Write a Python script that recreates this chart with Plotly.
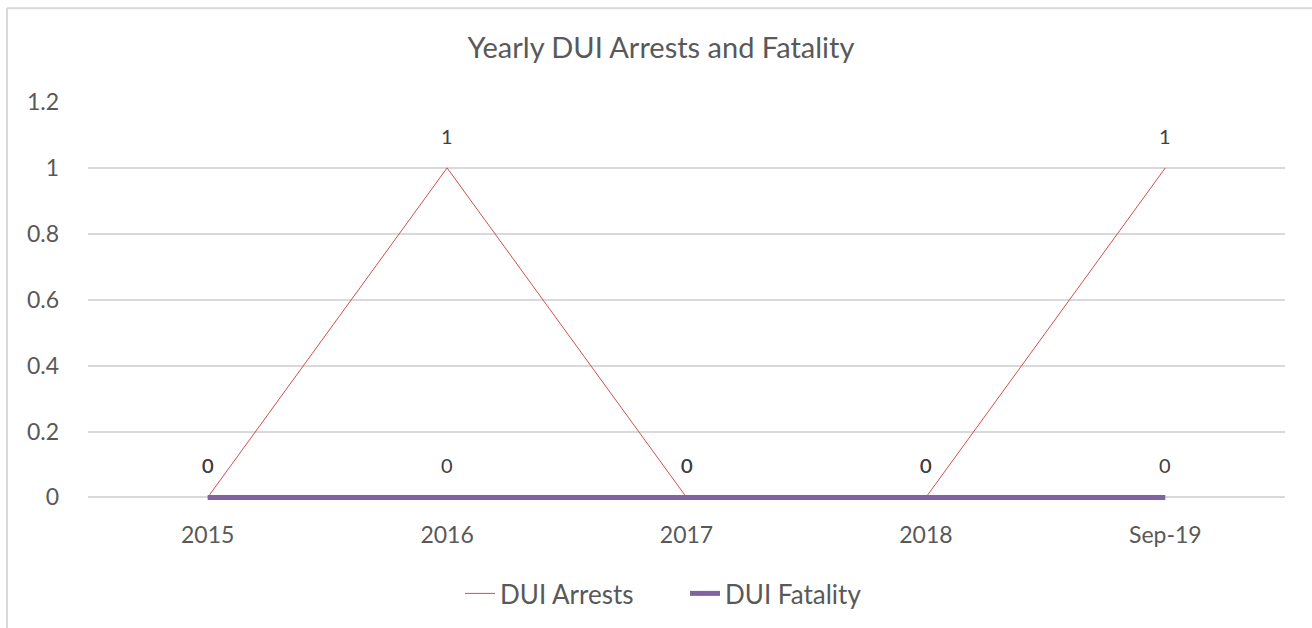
import plotly.graph_objects as go

categories = ["2015", "2016", "2017", "2018", "Sep-19"]
dui_arrests = [0, 1, 0, 0, 1]
dui_fatality = [0, 0, 0, 0, 0]
y_ticks = [0, 0.2, 0.4, 0.6, 0.8, 1, 1.2]
y_tick_labels = ["0", "0.2", "0.4", "0.6", "0.8", "1", "1.2"]

FONT = "Lato"
W, H = 1312, 628
Y_TOP_PX, Y_ZERO_PX = 102, 498
Y_MAX, Y_MIN = 1.2, -0.02
PX_PER_UNIT = (Y_ZERO_PX - Y_TOP_PX) / Y_MAX
EXTRA = -Y_MIN * PX_PER_UNIT
L, R, T = 88, 27, Y_TOP_PX
B = H - Y_ZERO_PX - EXTRA

fig = go.Figure()
fig.add_trace(go.Scatter(x=categories, y=dui_arrests, mode="lines", name="DUI Arrests",
                         line=dict(color="#D0504D", width=1)))
fig.add_trace(go.Scatter(x=categories, y=dui_fatality, mode="lines", name="DUI Fatality",
                         line=dict(color="#8064A2", width=5)))

annotations = []
for series in (dui_arrests, dui_fatality):
    for i, v in enumerate(series):
        annotations.append(dict(x=i, y=v, xref="x", yref="y", text=str(v), showarrow=False,
                                yshift=32, font=dict(family=FONT, size=20, color="#404040")))

pw = W - L - R
ph = H - T - B
def px_to_paper_x(px):
    return (px - L) / pw
def px_to_paper_y(py):
    return (H - B - py) / ph

shapes = [
    dict(type="line", xref="paper", yref="paper", x0=px_to_paper_x(7), x1=px_to_paper_x(7),
         y0=px_to_paper_y(8), y1=px_to_paper_y(640), line=dict(color="#D9D9D9", width=2)),
    dict(type="line", xref="paper", yref="paper", x0=px_to_paper_x(7), x1=px_to_paper_x(1320),
         y0=px_to_paper_y(8), y1=px_to_paper_y(8), line=dict(color="#D9D9D9", width=2)),
]

fig.update_layout(
    width=W, height=H,
    margin=dict(l=L, r=R, t=T, b=B),
    paper_bgcolor="white", plot_bgcolor="white",
    title=dict(text="Yearly DUI Arrests and Fatality", x=px_to_paper_x(661), xref="paper",
               xanchor="center", y=1 - 48 / H, yanchor="middle",
               font=dict(family=FONT, size=29, color="#595959")),
    xaxis=dict(type="category", range=[-0.5, 4.5], showgrid=False, zeroline=False,
               showline=False, ticks="", ticklabelstandoff=int(round(22 - EXTRA)),
               tickfont=dict(family=FONT, size=23, color="#595959")),
    yaxis=dict(range=[Y_MIN, Y_MAX], tickvals=y_ticks, ticktext=y_tick_labels, showgrid=True,
               gridcolor="#D9D9D9", gridwidth=1.5, zeroline=False, showline=False,
               tickfont=dict(family=FONT, size=23, color="#595959"), ticklabelstandoff=28),
    legend=dict(orientation="h", x=px_to_paper_x(685), xanchor="center", y=px_to_paper_y(593),
                yanchor="middle", font=dict(family=FONT, size=26, color="#595959"),
                entrywidth=180),
    showlegend=True,
    annotations=annotations,
    shapes=shapes,
)

fig.write_html("out.html", config={"displayModeBar": False},
               post_script="document.body.style.margin='0';document.body.style.overflow='hidden';")
